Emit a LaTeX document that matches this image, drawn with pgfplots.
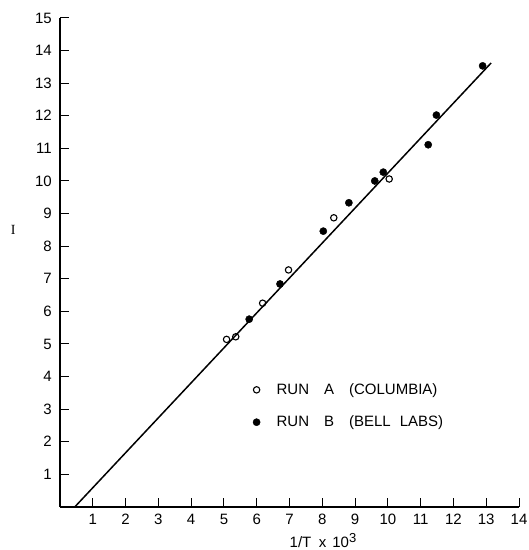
\documentclass[border=0pt]{standalone}
\usepackage{pgfplots}
\pgfplotsset{compat=1.18}
\usepackage{fontspec}
\setmainfont{Liberation Sans}
\newfontfamily\seriffont{Liberation Serif}
\begin{document}
\begin{tikzpicture}
\begin{axis}[
  scale only axis, width=459pt, height=489pt,
  xmin=0, xmax=14, ymin=0, ymax=15,
  axis x line=bottom, axis y line=left,
  axis line style={line width=1.6pt, -},
  xtick={1,...,14}, ytick={1,...,15},
  tick align=inside, major tick length=9pt,
  tick style={black, line width=1pt},
  /pgf/number format/assume math mode=true,
  ticklabel style={font=\fontsize{15}{15}\selectfont, inner sep=1pt},
  xticklabel style={yshift=-6pt},
  yticklabel style={xshift=-7pt},
  xlabel={1/T\hspace{0.5em}x\hspace{0.4em}10\raisebox{5pt}{\fontsize{13}{13}\selectfont 3}},
  xlabel style={font=\fontsize{15}{15}\selectfont, inner sep=0pt, at={(axis description cs:0.573,0)}, anchor=base, yshift=-41pt},
  ylabel={I},
  ylabel style={font=\fontsize{14}{14}\selectfont\seriffont, inner sep=0pt, rotate=-90, at={(axis description cs:-0.102,0.566)}, anchor=center},
  clip=false,
  legend style={draw=none, fill=none, at={(axis cs:5.88,3.85)}, anchor=north west,
    font=\fontsize{15}{15}\selectfont, row sep=16pt, inner sep=0pt},
  legend cell align=left,
  legend image code/.code={\draw[#1] plot coordinates {(0pt,0pt)}; \path[draw=none,fill=none] (0pt,0pt) -- (18pt,0pt);},
]
\path[draw=none] (axis cs:-1.83,-1.32) rectangle (axis cs:14.24,15.55);
\addplot[black, line width=1.5pt, forget plot] coordinates {(0.45,0) (13.15,13.62)};
\addplot[only marks, mark=o, mark size=3.2pt, black, line width=1.1pt] coordinates {
 (5.08,5.14) (5.36,5.22) (6.18,6.25) (6.97,7.27) (8.35,8.87) (10.04,10.06)};
\addlegendentry{RUN\hspace{1em}A\hspace{1em}(COLUMBIA)}
\addplot[only marks, mark=*, mark size=3.6pt, black] coordinates {
 (5.77,5.76) (6.71,6.84) (8.03,8.46) (8.81,9.33) (9.60,10.0) (9.86,10.27)
 (11.23,11.11) (11.48,12.02) (12.89,13.53)};
\addlegendentry{RUN\hspace{1em}B\hspace{1em}(BELL\hspace{0.6em}LABS)}
\end{axis}
\end{tikzpicture}
\end{document}
